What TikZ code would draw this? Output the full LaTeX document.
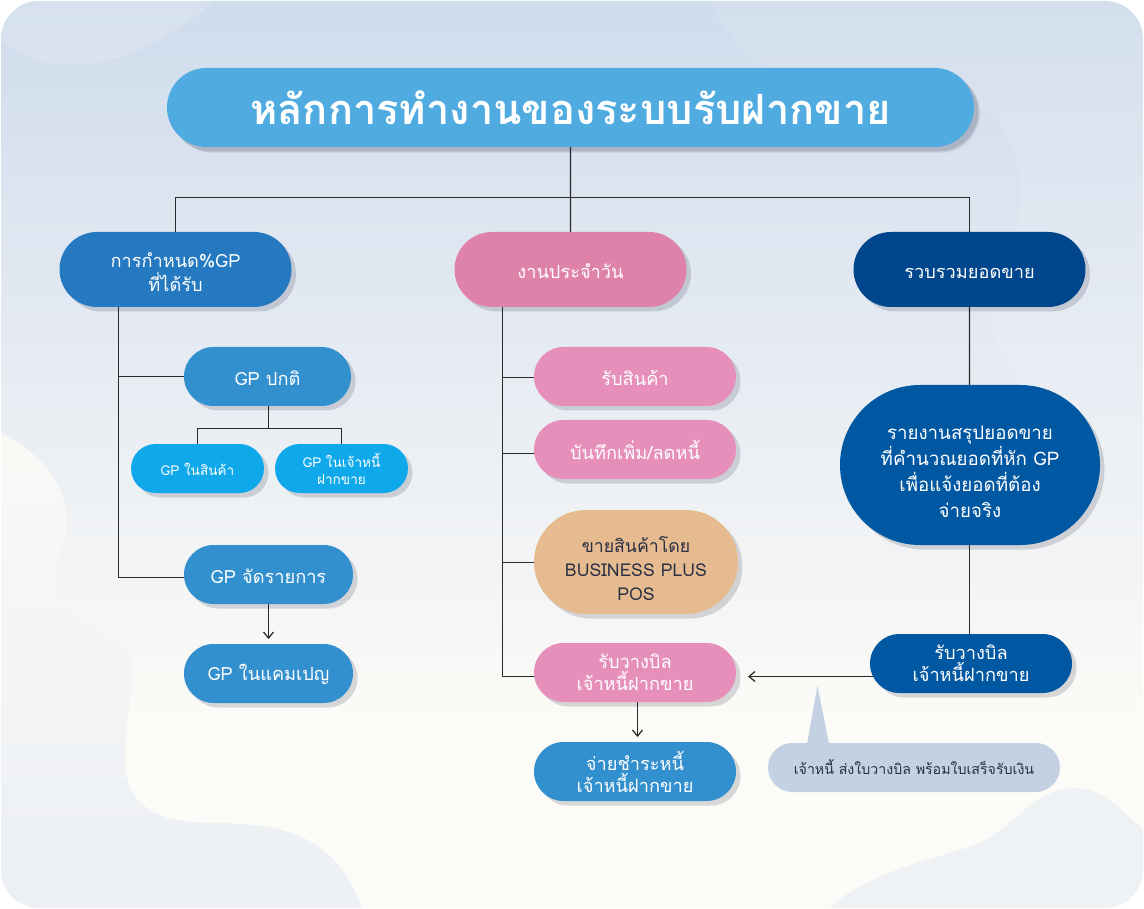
\documentclass[tikz,border=0pt]{standalone}
\usepackage{fontspec}
\setmainfont[Script=Thai]{Loma}
\usetikzlibrary{shapes.misc,shadows,arrows.meta}
\pgfdeclarelayer{backdrop}
\pgfdeclarelayer{lines}
\pgfsetlayers{backdrop,lines,main}
\definecolor{bgA}{HTML}{CFDCEC}
\definecolor{bgB}{HTML}{E3E9F2}
\definecolor{bgC}{HTML}{FCFBF7}
\definecolor{cTitle}{HTML}{50ABE0}
\definecolor{cBlueA}{HTML}{2479C0}
\definecolor{cPinkA}{HTML}{DE82A9}
\definecolor{cNavy}{HTML}{00468C}
\definecolor{cMid}{HTML}{3390CE}
\definecolor{cSky}{HTML}{0FA8EA}
\definecolor{cPink}{HTML}{E68FBB}
\definecolor{cTan}{HTML}{E5BB8F}
\definecolor{cDeep}{HTML}{0058A2}
\definecolor{cNote}{HTML}{C3D1E3}
\definecolor{cInk}{HTML}{2A2F45}
\definecolor{cLine}{HTML}{2A2A2A}
\pgfdeclareverticalshading{bgshade}{100bp}{color(0bp)=(bgC); color(35bp)=(bgC); color(58bp)=(bgB); color(75bp)=(bgA); color(100bp)=(bgA)}
\newcommand{\lowerby}[1]{\rule{0pt}{#1em}}
\tikzset{
  pill/.style={rounded rectangle,inner sep=0pt,text=white,align=center,
    font=\fontsize{18.2}{22}\selectfont,
    copy shadow={shadow xshift=4.5pt,shadow yshift=-4.5pt,fill=black!90!blue,draw=none,opacity=.14}},
  flat/.style={rounded rectangle,inner sep=0pt,align=center},
  wire/.style={draw=cLine,line width=1.25pt},
  arrowwire/.style={wire,-{Straight Barb[length=6pt,width=10pt]}},
  sz/.style 2 args={minimum width=#1pt,minimum height=#2pt}
}
\begin{document}
\begin{tikzpicture}[x=1pt,y=-1pt]
\useasboundingbox (0,0) rectangle (1144,909);
\begin{pgfonlayer}{backdrop}
\fill[white] (0,0) rectangle (1144,909);
\begin{scope}
\path[clip,rounded corners=38pt] (1,1) rectangle (1143,908);
\shade[shading=bgshade] (0,0) rectangle (1144,909);
\fill[white,opacity=.16] (0,0) -- (0,40) .. controls (40,75) and (100,70) .. (150,45) .. controls (180,30) and (200,15) .. (215,0) -- cycle;
\fill[white,opacity=.1] (708,0) .. controls (725,35) and (745,55) .. (770,68) -- (960,85) .. controls (1000,115) and (1022,150) .. (1021,195) .. controls (1020,260) and (990,300) .. (993,330) .. controls (1000,375) and (1060,420) .. (1144,480) -- (1144,0) -- cycle;
\shade[top color=bgC!90!bgB,bottom color=black!0!bgB!65!bgC] (0,433) .. controls (40,452) and (67,485) .. (67,520) .. controls (67,545) and (50,565) .. (55,590) .. controls (60,620) and (130,630) .. (132,667) .. controls (133,700) and (125,720) .. (125,760) .. controls (125,800) and (150,818) .. (190,822) .. controls (250,825) and (330,815) .. (362,909) -- (0,909) -- cycle;
\fill[bgB!50!bgC] (830,909) .. controls (860,875) and (930,860) .. (975,845) .. controls (1020,825) and (1030,790) .. (1075,788) .. controls (1105,788) and (1125,815) .. (1144,830) -- (1144,909) -- cycle;
\end{scope}
\end{pgfonlayer}

% nodes
\node[pill,sz={807}{79},fill=cTitle,font=\fontsize{41.6}{48}\selectfont\bfseries,copy shadow={shadow xshift=6pt,shadow yshift=-6pt,fill=black!85!blue,draw=none,opacity=.07}] (title) at (570.5,107.5) {หลักการทำงานของระบบรับฝากขาย};
\node[pill,sz={232}{75},fill=cBlueA,font=\fontsize{18.2}{24}\selectfont] (gp) at (175.5,269.5) {\lowerby{1.07}การกำหนด\%GP\\ที่ได้รับ};
\node[pill,sz={232}{75},fill=cPinkA] (daily) at (570.5,269.5) {\lowerby{1}งานประจำวัน};
\node[pill,sz={232}{75},fill=cNavy] (sum) at (969.5,269.5) {\lowerby{1}รวบรวมยอดขาย};
\node[pill,sz={167}{59},fill=cMid] (gpn) at (267.5,376.5) {\lowerby{1}GP ปกติ};
\node[pill,sz={133}{49},fill=cSky,font=\fontsize{13.6}{17}\selectfont] (gps) at (197.5,468.5) {\lowerby{1}GP ในสินค้า};
\node[pill,sz={133}{49},fill=cSky,font=\fontsize{13.6}{17}\selectfont] (gpd) at (341.5,468.5) {GP ในเจ้าหนี้\\ฝากขาย};
\node[pill,sz={169}{59},fill=cMid] (gpj) at (268.5,574.5) {\lowerby{1}GP จัดรายการ};
\node[pill,sz={169}{59},fill=cMid] (gpc) at (268.5,673.5) {\lowerby{1}GP ในแคมเปญ};
\node[pill,sz={202}{59},fill=cPink] (recv) at (635,376.5) {\lowerby{1}รับสินค้า};
\node[pill,sz={202}{59},fill=cPink] (memo) at (635,449.5) {\lowerby{1}บันทึกเพิ่ม/ลดหนี้};
\node[pill,sz={204}{104},fill=cTan,text=cInk,font=\fontsize{17.7}{24}\selectfont] (pos) at (636,562) {\lowerby{1.7}ขายสินค้าโดย\\BUSINESS PLUS\\POS};
\node[pill,sz={202}{59},fill=cPink] (bill) at (635,672.5) {รับวางบิล\\เจ้าหนี้ฝากขาย};
\node[pill,sz={202}{59},fill=cMid] (pay) at (635,771.5) {จ่ายชำระหนี้\\เจ้าหนี้ฝากขาย};
\node[pill,sz={260}{160},fill=cDeep,font=\fontsize{18.7}{26}\selectfont] (report) at (970,465) {\lowerby{1.4}รายงานสรุปยอดขาย\\ที่คำนวณยอดที่หัก GP\\เพื่อแจ้งยอดที่ต้อง\\จ่ายจริง};
\node[pill,sz={202}{59},fill=cDeep] (billc) at (971,663.5) {รับวางบิล\\เจ้าหนี้ฝากขาย};
\node[flat,sz={292}{49},fill=cNote,text=cInk,font=\fontsize{14.2}{18}\selectfont] (note) at (914,767.5) {เจ้าหนี้ ส่งใบวางบิล พร้อมใบเสร็จรับเงิน};
\fill[cNote] (817.5,686) -- (829,744) -- (807,744) -- cycle;

% free ends and junctions
\coordinate (busY) at (570.5,197.5);
\coordinate (spineA) at (118.5,577.5);
\coordinate (jGpn) at (118.5,376.5);
\coordinate (spineB) at (502.5,676.5);
\coordinate (jRecv) at (502.5,377.5);
\coordinate (jMemo) at (502.5,453.5);
\coordinate (jPos) at (502.5,562.5);
\coordinate (forkY) at (268.5,428.5);
\coordinate (tipL) at (748,676.5);
\coordinate (tipA) at (268.5,639);
\coordinate (tipB) at (637.5,737);

\begin{pgfonlayer}{lines}
\draw[wire] (title) -- (daily);
\draw[wire] (gp) |- (busY) -| (sum);
\draw[wire] (spineA |- gp) -- (spineA) -- (gpj |- spineA);
\draw[wire] (jGpn) -- (gpn);
\draw[wire] (forkY |- gpn) -- (forkY);
\draw[wire] (gps) |- (forkY) -| (gpd);
\draw[wire] (spineB |- daily) -- (spineB) -- (bill |- spineB);
\draw[wire] (jRecv) -- (recv |- jRecv);
\draw[wire] (jMemo) -- (memo |- jMemo);
\draw[wire] (jPos) -- (pos |- jPos);
\draw[wire] (sum) -- (sum |- report);
\draw[wire] (sum |- report) -- (sum |- billc);
\draw[arrowwire] (billc |- tipL) -- (tipL);
\draw[arrowwire] (tipA |- gpj) -- (tipA);
\draw[arrowwire] (tipB |- bill) -- (tipB);
\end{pgfonlayer}
\end{tikzpicture}
\end{document}
